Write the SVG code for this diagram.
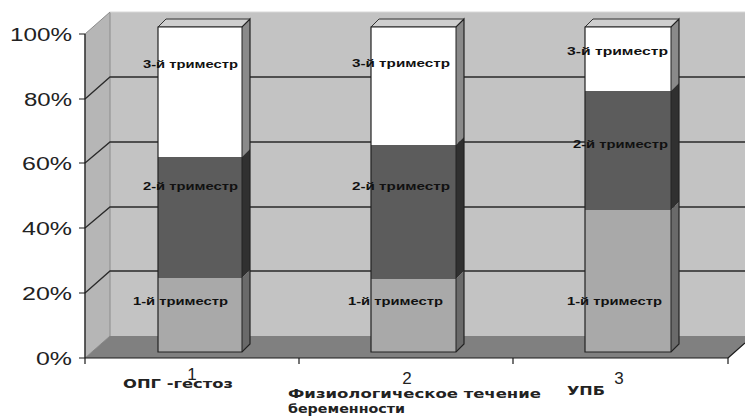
<svg xmlns="http://www.w3.org/2000/svg" width="745" height="416" viewBox="0 0 745 416">
<style>
.grid{stroke:#2a2a2a;stroke-width:1.3;fill:none}
.edge{stroke:#1a1a1a;stroke-width:1.2}
.ax{fill:#222;font-family:"Liberation Sans",Arial,sans-serif;font-size:18px}
.lbl{fill:#111;font-family:"Liberation Sans",Arial,sans-serif;font-size:11px;font-weight:bold}
.cat{fill:#222;font-family:"DejaVu Sans",Verdana,sans-serif;font-size:12px;font-weight:bold}
.num{fill:#222;font-family:"Liberation Sans",Arial,sans-serif;font-size:17px}
.white{fill:#ffffff}
.dark{fill:#5c5c5c}
.light{fill:#a9a9a9}
.sw{fill:#8a8a8a}
.sd{fill:#303030}
.sl{fill:#6a6a6a}
.top{fill:#cfcfcf}
</style>
<rect width="745" height="416" fill="#ffffff"/>
<g id="walls">
<polygon points="110,12 745,12 745,336 110,336" fill="#c3c3c3"/>
<polygon points="85,34 110,12 110,336 85,358" fill="#b6b6b6" stroke="#8c8c8c" stroke-width="1"/>
<polygon points="85,358 728,358 753,336 110,336" fill="#808080"/>
<line x1="110" y1="12" x2="745" y2="12" stroke="#d8d8d8" stroke-width="1"/>
</g>
<g id="gridlines">
<path class="grid" d="M85,99 L110,77 L745,77 M85,163 L110,142 L745,142 M85,228 L110,207 L745,207 M85,293 L110,271 L745,271"/>
</g>
<g id="axes">
<line x1="85" y1="34" x2="85" y2="358" class="edge"/>
<line x1="85" y1="358" x2="728" y2="358" class="edge"/>
<line x1="728" y1="358" x2="745" y2="343" class="edge"/>
<path class="edge" fill="none" d="M79,34H85M79,99H85M79,163H85M79,228H85M79,293H85M79,358H85M85,358V364M299,358V364M513,358V364M728,358V364"/>
<text class="ax" x="10" y="41" textLength="62" lengthAdjust="spacingAndGlyphs">100%</text>
<text class="ax" x="24" y="106" textLength="48" lengthAdjust="spacingAndGlyphs">80%</text>
<text class="ax" x="22" y="170" textLength="50" lengthAdjust="spacingAndGlyphs">60%</text>
<text class="ax" x="22" y="235" textLength="50" lengthAdjust="spacingAndGlyphs">40%</text>
<text class="ax" x="22" y="300" textLength="50" lengthAdjust="spacingAndGlyphs">20%</text>
<text class="ax" x="36" y="365" textLength="36" lengthAdjust="spacingAndGlyphs">0%</text>
</g>
<g id="bar1">
<polygon class="top" points="158,27 166,19 250,19 242,27" stroke="#333" stroke-width="1"/>
<polygon class="sw" points="242,27 250,19 250,149 242,157"/>
<polygon class="sd" points="242,157 250,149 250,270 242,278"/>
<polygon class="sl" points="242,278 250,270 250,344 242,352"/>
<rect class="white" x="158" y="27" width="84" height="130"/>
<rect class="dark" x="158" y="157" width="84" height="121"/>
<rect class="light" x="158" y="278" width="84" height="74"/>
<polygon points="158,27 242,27 250,19 250,344 242,352 158,352" fill="none" stroke="#222" stroke-width="1.2"/>
<line x1="242" y1="27" x2="242" y2="352" stroke="#222" stroke-width="1"/>
<text class="lbl" x="143" y="68" textLength="95" lengthAdjust="spacingAndGlyphs">3-й триместр</text>
<text class="lbl" x="143" y="190" textLength="95" lengthAdjust="spacingAndGlyphs">2-й триместр</text>
<text class="lbl" x="133" y="305" textLength="95" lengthAdjust="spacingAndGlyphs">1-й триместр</text>
</g>
<g id="bar2">
<polygon class="top" points="371,27 379,19 464,19 456,27" stroke="#333" stroke-width="1"/>
<polygon class="sw" points="456,27 464,19 464,137 456,145"/>
<polygon class="sd" points="456,145 464,137 464,271 456,279"/>
<polygon class="sl" points="456,279 464,271 464,344 456,352"/>
<rect class="white" x="371" y="27" width="85" height="118"/>
<rect class="dark" x="371" y="145" width="85" height="134"/>
<rect class="light" x="371" y="279" width="85" height="73"/>
<polygon points="371,27 456,27 464,19 464,344 456,352 371,352" fill="none" stroke="#222" stroke-width="1.2"/>
<line x1="456" y1="27" x2="456" y2="352" stroke="#222" stroke-width="1"/>
<text class="lbl" x="352" y="67" textLength="98" lengthAdjust="spacingAndGlyphs">3-й триместр</text>
<text class="lbl" x="352" y="190" textLength="98" lengthAdjust="spacingAndGlyphs">2-й триместр</text>
<text class="lbl" x="348" y="305" textLength="95" lengthAdjust="spacingAndGlyphs">1-й триместр</text>
</g>
<g id="bar3">
<polygon class="top" points="585,27 593,19 679,19 671,27" stroke="#333" stroke-width="1"/>
<polygon class="sw" points="671,27 679,19 679,83 671,91"/>
<polygon class="sd" points="671,91 679,83 679,202 671,210"/>
<polygon class="sl" points="671,210 679,202 679,344 671,352"/>
<rect class="white" x="585" y="27" width="86" height="64"/>
<rect class="dark" x="585" y="91" width="86" height="119"/>
<rect class="light" x="585" y="210" width="86" height="142"/>
<polygon points="585,27 671,27 679,19 679,344 671,352 585,352" fill="none" stroke="#222" stroke-width="1.2"/>
<line x1="671" y1="27" x2="671" y2="352" stroke="#222" stroke-width="1"/>
<text class="lbl" x="567" y="55" textLength="101" lengthAdjust="spacingAndGlyphs">3-й триместр</text>
<text class="lbl" x="573" y="148" textLength="95" lengthAdjust="spacingAndGlyphs">2-й триместр</text>
<text class="lbl" x="567" y="305" textLength="95" lengthAdjust="spacingAndGlyphs">1-й триместр</text>
</g>
<g id="categories">
<text class="cat" x="123" y="388" textLength="110" lengthAdjust="spacingAndGlyphs">ОПГ -гестоз</text>
<text class="num" x="192" y="380" text-anchor="middle">1</text>
<text class="num" x="407" y="384" text-anchor="middle">2</text>
<text class="cat" x="288" y="398" textLength="253" lengthAdjust="spacingAndGlyphs">Физиологическое течение</text>
<text class="cat" x="288" y="413" textLength="117" lengthAdjust="spacingAndGlyphs">беременности</text>
<text class="cat" x="567" y="395" textLength="38" lengthAdjust="spacingAndGlyphs">УПБ</text>
<text class="num" x="619" y="384" text-anchor="middle">3</text>
</g>
</svg>
